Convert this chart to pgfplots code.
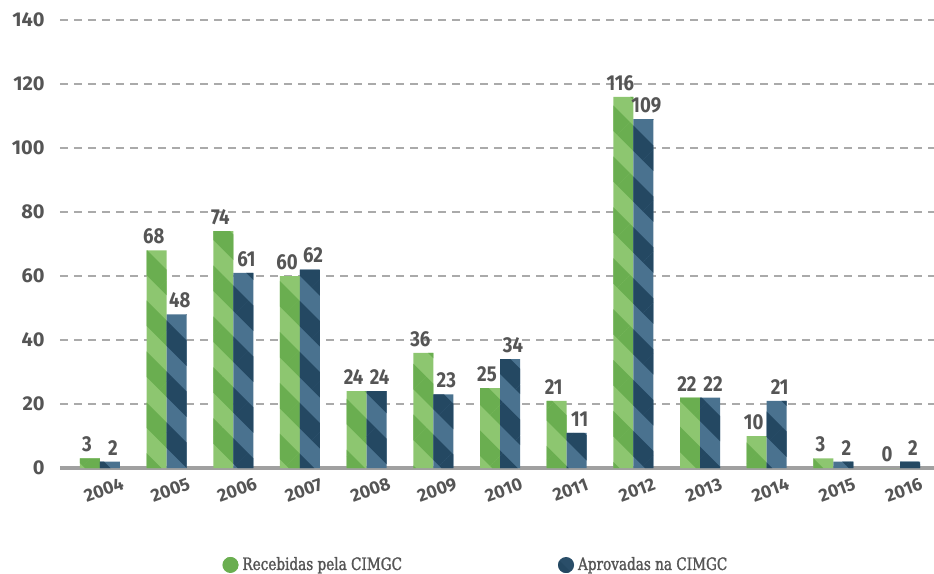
\documentclass[border=0pt]{standalone}
\usepackage{fontspec}
\setmainfont{Fira Sans}
\newfontfamily\numfont[FakeStretch=0.86]{Fira Sans}
\newfontfamily\legfont[FakeStretch=0.8, FakeBold=1.5]{DejaVu Serif}
\usepackage{pgfplots}
\pgfplotsset{compat=1.18}
\usetikzlibrary{patterns.meta}
\definecolor{gl}{RGB}{141,198,112}
\definecolor{gd}{RGB}{106,174,80}
\definecolor{bl}{RGB}{74,114,143}
\definecolor{bd}{RGB}{36,72,98}
\definecolor{labgray}{RGB}{85,85,85}
\definecolor{gridgray}{RGB}{170,170,170}
\definecolor{axisgray}{RGB}{160,160,160}
\begin{document}
\begin{tikzpicture}
\begin{axis}[
  scale only axis, width=437pt, height=224pt,
  at={(0,0)}, anchor=south west,
  xmin=-0.6, xmax=12.51, ymin=0, ymax=140,
  ybar=0pt, bar width=10pt,
  xtick={0,...,12},
  xticklabels={2004,2005,2006,2007,2008,2009,2010,2011,2012,2013,2014,2015,2016},
  ytick={20,40,...,140}, extra y ticks={0},
  ymajorgrids,
  major grid style={dash pattern=on 4pt off 3pt, color=gridgray, line width=0.75pt},
  extra y tick style={major grid style={solid, line width=2pt, color=axisgray}},
  axis line style={draw=none}, major tick length=0pt,
  tick label style={font=\bfseries\fontsize{10}{12}\selectfont, text=labgray},
  y tick label style={anchor=east, inner sep=0pt, xshift=-7.5pt},
  x tick label style={rotate=20, anchor=center, inner sep=0pt, yshift=-11pt, xshift=-2pt, font=\bfseries\fontsize{9}{11}\selectfont},
  /pgf/number format/assume math mode=true,
  nodes near coords,
  every node near coord/.append style={font=\numfont\bfseries\fontsize{10.8}{12}\selectfont, text=labgray, inner sep=3pt},
  clip=false,
  legend style={at={(0.477,-0.2165)}, anchor=center, draw=none, fill=none, legend columns=2,
    /tikz/every even column/.style={column sep=76pt},
    font=\legfont\fontsize{8.5}{10}\selectfont, text=labgray},
]
\addplot[fill=gl, draw=none, postaction={pattern={Lines[angle=-45,distance=18pt,line width=9pt]}, pattern color=gd},
  nodes near coords style={xshift=-1.5pt},
  legend image code/.code={\fill[gd] (0pt,0pt) circle (4pt);}]
  coordinates {(0,3) (1,68) (2,74) (3,60) (4,24) (5,36) (6,25) (7,21) (8,116) (9,22) (10,10) (11,3) (12,0)};
\addlegendentry{Recebidas pela CIMGC}
\addplot[fill=bl, draw=none, postaction={pattern={Lines[angle=-45,distance=18pt,line width=9pt]}, pattern color=bd},
  nodes near coords style={xshift=1.5pt},
  legend image code/.code={\fill[bd!85!bl] (0pt,0pt) circle (4pt);}]
  coordinates {(0,2) (1,48) (2,61) (3,62) (4,24) (5,23) (6,34) (7,11) (8,109) (9,22) (10,21) (11,2) (12,2)};
\addlegendentry{Aprovadas na CIMGC}
\end{axis}
\pgfresetboundingbox
\path[use as bounding box] (-30pt,-53pt) rectangle (437pt,234pt);
\end{tikzpicture}
\end{document}
